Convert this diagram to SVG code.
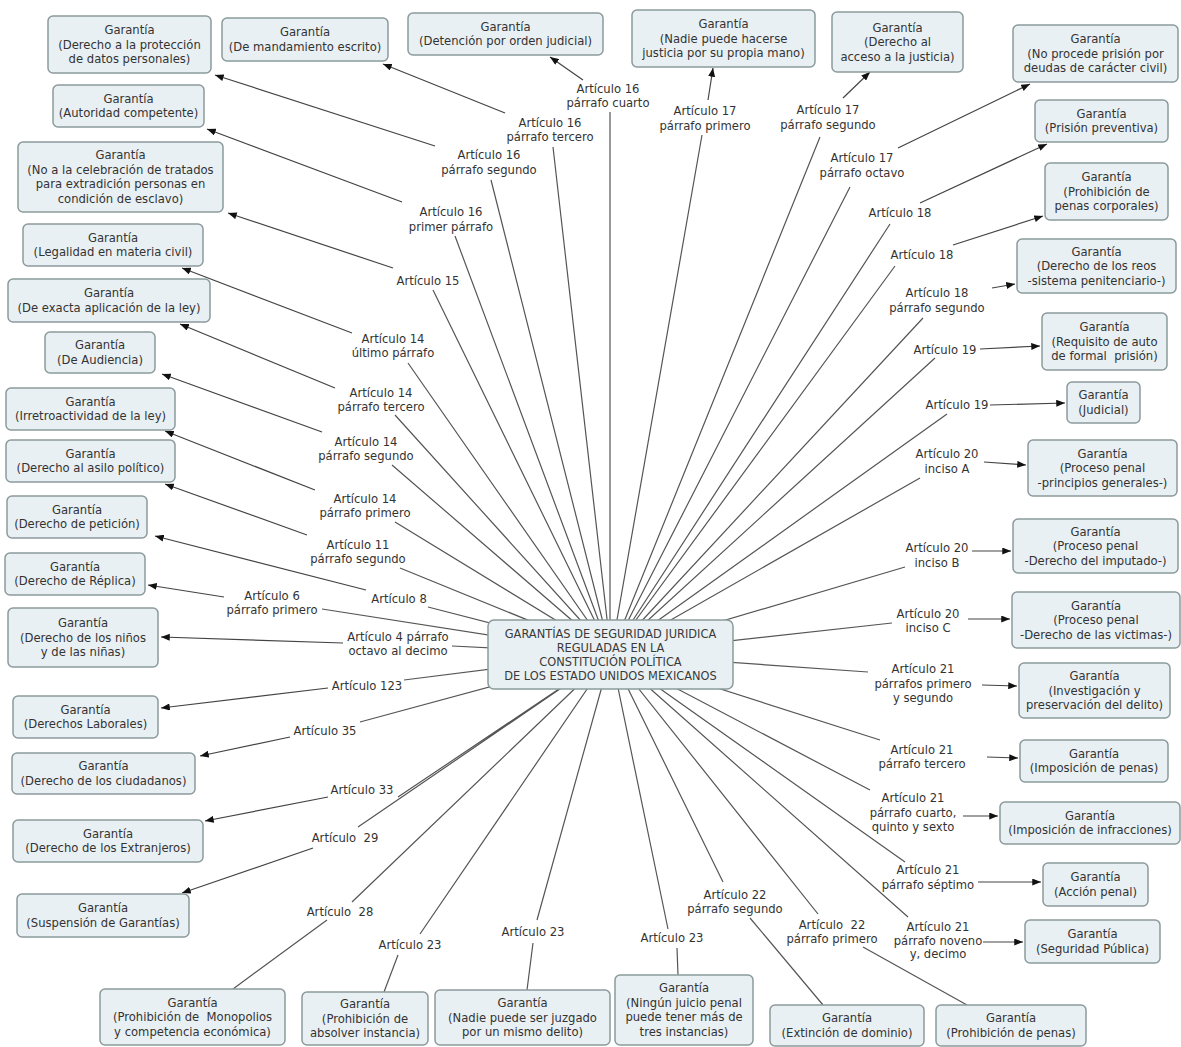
<svg xmlns="http://www.w3.org/2000/svg" width="1181" height="1047" viewBox="0 0 1181 1047">
<defs>
<marker id="ah" viewBox="0 0 10 8" refX="10" refY="4" markerWidth="9" markerHeight="7" markerUnits="userSpaceOnUse" orient="auto">
<path d="M0,0 L10,4 L0,8 z" fill="#111"/>
</marker>
</defs>
<style>
text{font-family:"DejaVu Sans",Verdana,sans-serif;font-size:11.6px;fill:#333;text-anchor:middle;white-space:pre}
.box{fill:#e9f0f3;stroke:#8c9a9c;stroke-width:1.5}
.c{stroke:#555;stroke-width:1.2;fill:none}
.a{stroke:#444;stroke-width:1.2;fill:none;marker-end:url(#ah)}
.main text{font-size:11.4px;fill:#3a3a3a}
</style>
<rect width="1181" height="1047" fill="#fff"/>
<g id="connectors">
<path class="c" d="M610,112 L610,654 M553,147 L611,654 M491,180 L611,654 M455,236 L611,654 M433,290 L611,654 M408,363 L611,654 M395,415 L611,654 M392,465 L611,654 M395,522 L611,654 M400,568 L611,654 M428,607 L611,654 M322,609 L611,654 M452,646 L611,654 M404,680 L611,654 M360,722 L611,654 M398,797 L611,654 M358,827 L611,654 M352,902 L611,654 M420,934 L611,654 M537,920 L611,654 M668,929 L611,654 M723,882 L611,654 M818,914 L611,654 M702,135 L611,654 M820,137 L611,654 M850,187 L611,654 M890,224 L611,654 M895,266 L611,654 M923,318 L611,654 M935,358 L611,654 M947,414 L611,654 M920,478 L611,654 M905,567 L611,654 M892,623 L611,654 M868,672 L611,654 M880,740 L611,654 M870,790 L611,654 M905,862 L611,654 M908,917 L611,654"/>
<path class="c" d="M327,920 L233,989 M398,955 L384,992 M533,943 L527,990 M677,948 L678,975 M750,918 L823,1005 M863,947 L967,1005"/>
<path class="a" d="M583,80 L550,57"/>
<path class="a" d="M505,113 L383,64"/>
<path class="a" d="M435,146 L215,75"/>
<path class="a" d="M402,202 L207,129"/>
<path class="a" d="M393,268 L228,213"/>
<path class="a" d="M352,333 L182,268"/>
<path class="a" d="M335,388 L180,324"/>
<path class="a" d="M322,432 L162,374"/>
<path class="a" d="M315,490 L165,431"/>
<path class="a" d="M307,535 L165,484"/>
<path class="a" d="M366,590 L155,536"/>
<path class="a" d="M224,597 L148,585"/>
<path class="a" d="M343,643 L161,637"/>
<path class="a" d="M328,688 L161,708"/>
<path class="a" d="M290,737 L200,756"/>
<path class="a" d="M328,797 L205,821"/>
<path class="a" d="M313,848 L182,893"/>
<path class="a" d="M708,100 L713,68"/>
<path class="a" d="M843,98 L870,72"/>
<path class="a" d="M898,148 L1030,84"/>
<path class="a" d="M920,203 L1047,144"/>
<path class="a" d="M953,245 L1043,216"/>
<path class="a" d="M992,288 L1015,284"/>
<path class="a" d="M980,349 L1040,346"/>
<path class="a" d="M990,405 L1065,403"/>
<path class="a" d="M984,462 L1026,465"/>
<path class="a" d="M972,551 L1011,551"/>
<path class="a" d="M968,619 L1010,619"/>
<path class="a" d="M982,685 L1017,686"/>
<path class="a" d="M987,757 L1018,758"/>
<path class="a" d="M963,816 L998,816"/>
<path class="a" d="M978,882 L1041,882"/>
<path class="a" d="M983,942 L1023,942"/>
<g id="labels">
<text x="608"><tspan x="608" y="93">Artículo 16</tspan><tspan x="608" y="107">párrafo cuarto</tspan></text>
<text x="550"><tspan x="550" y="127">Artículo 16</tspan><tspan x="550" y="141">párrafo tercero</tspan></text>
<text x="489"><tspan x="489" y="159">Artículo 16</tspan><tspan x="489" y="174">párrafo segundo</tspan></text>
<text x="451"><tspan x="451" y="216">Artículo 16</tspan><tspan x="451" y="231">primer párrafo</tspan></text>
<text x="428" y="285">Artículo 15</text>
<text x="393"><tspan x="393" y="343">Artículo 14</tspan><tspan x="393" y="357">último párrafo</tspan></text>
<text x="381"><tspan x="381" y="397">Artículo 14</tspan><tspan x="381" y="411">párrafo tercero</tspan></text>
<text x="366"><tspan x="366" y="446">Artículo 14</tspan><tspan x="366" y="460">párrafo segundo</tspan></text>
<text x="365"><tspan x="365" y="503">Artículo 14</tspan><tspan x="365" y="517">párrafo primero</tspan></text>
<text x="358"><tspan x="358" y="549">Artículo 11</tspan><tspan x="358" y="563">párrafo segundo</tspan></text>
<text x="399" y="603">Artículo 8</text>
<text x="272"><tspan x="272" y="600">Artículo 6</tspan><tspan x="272" y="614">párrafo primero</tspan></text>
<text x="398"><tspan x="398" y="641">Artículo 4 párrafo</tspan><tspan x="398" y="655">octavo al decimo</tspan></text>
<text x="367" y="690">Artículo 123</text>
<text x="325" y="735">Artículo 35</text>
<text x="362" y="794">Artículo 33</text>
<text x="345" y="842">Artículo  29</text>
<text x="340" y="916">Artículo  28</text>
<text x="410" y="949">Artículo 23</text>
<text x="533" y="936">Artículo 23</text>
<text x="672" y="942">Artículo 23</text>
<text x="735"><tspan x="735" y="899">Artículo 22</tspan><tspan x="735" y="913">párrafo segundo</tspan></text>
<text x="832"><tspan x="832" y="929">Artículo  22</tspan><tspan x="832" y="943">párrafo primero</tspan></text>
<text x="705"><tspan x="705" y="115">Artículo 17</tspan><tspan x="705" y="130">párrafo primero</tspan></text>
<text x="828"><tspan x="828" y="114">Artículo 17</tspan><tspan x="828" y="129">párrafo segundo</tspan></text>
<text x="862"><tspan x="862" y="162">Artículo 17</tspan><tspan x="862" y="177">párrafo octavo</tspan></text>
<text x="900" y="217">Artículo 18</text>
<text x="922" y="259">Artículo 18</text>
<text x="937"><tspan x="937" y="297">Artículo 18</tspan><tspan x="937" y="312">párrafo segundo</tspan></text>
<text x="945" y="354">Artículo 19</text>
<text x="957" y="409">Artículo 19</text>
<text x="947"><tspan x="947" y="458">Artículo 20</tspan><tspan x="947" y="473">inciso A</tspan></text>
<text x="937"><tspan x="937" y="552">Artículo 20</tspan><tspan x="937" y="567">inciso B</tspan></text>
<text x="928"><tspan x="928" y="618">Artículo 20</tspan><tspan x="928" y="632">inciso C</tspan></text>
<text x="923"><tspan x="923" y="673">Artículo 21</tspan><tspan x="923" y="688">párrafos primero</tspan><tspan x="923" y="702">y segundo</tspan></text>
<text x="922"><tspan x="922" y="754">Artículo 21</tspan><tspan x="922" y="768">párrafo tercero</tspan></text>
<text x="913"><tspan x="913" y="802">Artículo 21</tspan><tspan x="913" y="817">párrafo cuarto,</tspan><tspan x="913" y="831">quinto y sexto</tspan></text>
<text x="928"><tspan x="928" y="874">Artículo 21</tspan><tspan x="928" y="889">párrafo séptimo</tspan></text>
<text x="938"><tspan x="938" y="931">Artículo 21</tspan><tspan x="938" y="945">párrafo noveno</tspan><tspan x="938" y="958">y, decimo</tspan></text>
</g>
</g>
<g id="center" class="main">
<rect class="box" x="488" y="620" width="245" height="69" rx="6"/>
<text><tspan x="610.5" y="637.5">GARANTÍAS DE SEGURIDAD JURIDICA</tspan><tspan x="610.5" y="651.5">REGULADAS EN LA</tspan><tspan x="610.5" y="665.5">CONSTITUCIÓN POLÍTICA</tspan><tspan x="610.5" y="679.5">DE LOS ESTADO UNIDOS MEXICANOS</tspan></text>
</g>
<g id="n1"><rect class="box" x="48" y="16" width="163" height="57" rx="5"/><text><tspan x="129.5" y="34">Garantía</tspan><tspan x="129.5" y="48.5">(Derecho a la protección</tspan><tspan x="129.5" y="63">de datos personales)</tspan></text></g>
<g id="n2"><rect class="box" x="222" y="18" width="166" height="43" rx="5"/><text><tspan x="305" y="36.25">Garantía</tspan><tspan x="305" y="50.75">(De mandamiento escrito)</tspan></text></g>
<g id="n3"><rect class="box" x="408" y="13" width="195" height="42" rx="5"/><text><tspan x="505.5" y="30.75">Garantía</tspan><tspan x="505.5" y="45.25">(Detención por orden judicial)</tspan></text></g>
<g id="n4"><rect class="box" x="632" y="10" width="183" height="57" rx="5"/><text><tspan x="723.5" y="28">Garantía</tspan><tspan x="723.5" y="42.5">(Nadie puede hacerse</tspan><tspan x="723.5" y="57">justicia por su propia mano)</tspan></text></g>
<g id="n5"><rect class="box" x="832" y="12" width="131" height="60" rx="5"/><text><tspan x="897.5" y="31.5">Garantía</tspan><tspan x="897.5" y="46">(Derecho al</tspan><tspan x="897.5" y="60.5">acceso a la justicia)</tspan></text></g>
<g id="n6"><rect class="box" x="1013" y="25" width="165" height="57" rx="5"/><text><tspan x="1095.5" y="43">Garantía</tspan><tspan x="1095.5" y="57.5">(No procede prisión por</tspan><tspan x="1095.5" y="72">deudas de carácter civil)</tspan></text></g>
<g id="n7"><rect class="box" x="1035" y="100" width="133" height="42" rx="5"/><text><tspan x="1101.5" y="117.75">Garantía</tspan><tspan x="1101.5" y="132.25">(Prisión preventiva)</tspan></text></g>
<g id="n8"><rect class="box" x="1045" y="163" width="123" height="57" rx="5"/><text><tspan x="1106.5" y="181">Garantía</tspan><tspan x="1106.5" y="195.5">(Prohibición de</tspan><tspan x="1106.5" y="210">penas corporales)</tspan></text></g>
<g id="n9"><rect class="box" x="1017" y="239" width="159" height="54" rx="5"/><text><tspan x="1096.5" y="255.5">Garantía</tspan><tspan x="1096.5" y="270">(Derecho de los reos</tspan><tspan x="1096.5" y="284.5">-sistema penitenciario-)</tspan></text></g>
<g id="n10"><rect class="box" x="1042" y="313" width="125" height="57" rx="5"/><text><tspan x="1104.5" y="331">Garantía</tspan><tspan x="1104.5" y="345.5">(Requisito de auto</tspan><tspan x="1104.5" y="360">de formal  prisión)</tspan></text></g>
<g id="n11"><rect class="box" x="1067" y="382" width="73" height="41" rx="5"/><text><tspan x="1103.5" y="399.25">Garantía</tspan><tspan x="1103.5" y="413.75">(Judicial)</tspan></text></g>
<g id="n12"><rect class="box" x="1028" y="440" width="149" height="56" rx="5"/><text><tspan x="1102.5" y="457.5">Garantía</tspan><tspan x="1102.5" y="472">(Proceso penal</tspan><tspan x="1102.5" y="486.5">-principios generales-)</tspan></text></g>
<g id="n13"><rect class="box" x="1013" y="519" width="165" height="54" rx="5"/><text><tspan x="1095.5" y="535.5">Garantía</tspan><tspan x="1095.5" y="550">(Proceso penal</tspan><tspan x="1095.5" y="564.5">-Derecho del imputado-)</tspan></text></g>
<g id="n14"><rect class="box" x="1012" y="592" width="168" height="56" rx="5"/><text><tspan x="1096" y="609.5">Garantía</tspan><tspan x="1096" y="624">(Proceso penal</tspan><tspan x="1096" y="638.5">-Derecho de las victimas-)</tspan></text></g>
<g id="n15"><rect class="box" x="1019" y="663" width="151" height="55" rx="5"/><text><tspan x="1094.5" y="680">Garantía</tspan><tspan x="1094.5" y="694.5">(Investigación y</tspan><tspan x="1094.5" y="709">preservación del delito)</tspan></text></g>
<g id="n16"><rect class="box" x="1020" y="740" width="148" height="42" rx="5"/><text><tspan x="1094" y="757.75">Garantía</tspan><tspan x="1094" y="772.25">(Imposición de penas)</tspan></text></g>
<g id="n17"><rect class="box" x="1000" y="802" width="180" height="42" rx="5"/><text><tspan x="1090" y="819.75">Garantía</tspan><tspan x="1090" y="834.25">(Imposición de infracciones)</tspan></text></g>
<g id="n18"><rect class="box" x="1043" y="863" width="105" height="43" rx="5"/><text><tspan x="1095.5" y="881.25">Garantía</tspan><tspan x="1095.5" y="895.75">(Acción penal)</tspan></text></g>
<g id="n19"><rect class="box" x="1025" y="920" width="135" height="43" rx="5"/><text><tspan x="1092.5" y="938.25">Garantía</tspan><tspan x="1092.5" y="952.75">(Seguridad Pública)</tspan></text></g>
<g id="n20"><rect class="box" x="936" y="1005" width="150" height="41" rx="5"/><text><tspan x="1011" y="1022.25">Garantía</tspan><tspan x="1011" y="1036.75">(Prohibición de penas)</tspan></text></g>
<g id="n21"><rect class="box" x="770" y="1005" width="154" height="41" rx="5"/><text><tspan x="847" y="1022.25">Garantía</tspan><tspan x="847" y="1036.75">(Extinción de dominio)</tspan></text></g>
<g id="n22"><rect class="box" x="615" y="975" width="138" height="70" rx="5"/><text><tspan x="684" y="992.25">Garantía</tspan><tspan x="684" y="1006.75">(Ningún juicio penal</tspan><tspan x="684" y="1021.25">puede tener más de</tspan><tspan x="684" y="1035.75">tres instancias)</tspan></text></g>
<g id="n23"><rect class="box" x="435" y="990" width="175" height="55" rx="5"/><text><tspan x="522.5" y="1007">Garantía</tspan><tspan x="522.5" y="1021.5">(Nadie puede ser juzgado</tspan><tspan x="522.5" y="1036">por un mismo delito)</tspan></text></g>
<g id="n24"><rect class="box" x="302" y="992" width="126" height="53" rx="5"/><text><tspan x="365" y="1008">Garantía</tspan><tspan x="365" y="1022.5">(Prohibición de</tspan><tspan x="365" y="1037">absolver instancia)</tspan></text></g>
<g id="n25"><rect class="box" x="100" y="989" width="185" height="56" rx="5"/><text><tspan x="192.5" y="1006.5">Garantía</tspan><tspan x="192.5" y="1021">(Prohibición de  Monopolios</tspan><tspan x="192.5" y="1035.5">y competencia económica)</tspan></text></g>
<g id="n26"><rect class="box" x="17" y="894" width="172" height="43" rx="5"/><text><tspan x="103" y="912.25">Garantía</tspan><tspan x="103" y="926.75">(Suspensión de Garantías)</tspan></text></g>
<g id="n27"><rect class="box" x="13" y="820" width="190" height="42" rx="5"/><text><tspan x="108" y="837.75">Garantía</tspan><tspan x="108" y="852.25">(Derecho de los Extranjeros)</tspan></text></g>
<g id="n28"><rect class="box" x="12" y="753" width="183" height="41" rx="5"/><text><tspan x="103.5" y="770.25">Garantía</tspan><tspan x="103.5" y="784.75">(Derecho de los ciudadanos)</tspan></text></g>
<g id="n29"><rect class="box" x="13" y="696" width="145" height="42" rx="5"/><text><tspan x="85.5" y="713.75">Garantía</tspan><tspan x="85.5" y="728.25">(Derechos Laborales)</tspan></text></g>
<g id="n30"><rect class="box" x="8" y="608" width="150" height="59" rx="5"/><text><tspan x="83" y="627">Garantía</tspan><tspan x="83" y="641.5">(Derecho de los niños</tspan><tspan x="83" y="656">y de las niñas)</tspan></text></g>
<g id="n31"><rect class="box" x="5" y="553" width="140" height="42" rx="5"/><text><tspan x="75" y="570.75">Garantía</tspan><tspan x="75" y="585.25">(Derecho de Réplica)</tspan></text></g>
<g id="n32"><rect class="box" x="7" y="496" width="140" height="42" rx="5"/><text><tspan x="77" y="513.75">Garantía</tspan><tspan x="77" y="528.25">(Derecho de petición)</tspan></text></g>
<g id="n33"><rect class="box" x="6" y="440" width="169" height="42" rx="5"/><text><tspan x="90.5" y="457.75">Garantía</tspan><tspan x="90.5" y="472.25">(Derecho al asilo político)</tspan></text></g>
<g id="n34"><rect class="box" x="6" y="388" width="169" height="42" rx="5"/><text><tspan x="90.5" y="405.75">Garantía</tspan><tspan x="90.5" y="420.25">(Irretroactividad de la ley)</tspan></text></g>
<g id="n35"><rect class="box" x="45" y="332" width="110" height="41" rx="5"/><text><tspan x="100" y="349.25">Garantía</tspan><tspan x="100" y="363.75">(De Audiencia)</tspan></text></g>
<g id="n36"><rect class="box" x="8" y="279" width="202" height="43" rx="5"/><text><tspan x="109" y="297.25">Garantía</tspan><tspan x="109" y="311.75">(De exacta aplicación de la ley)</tspan></text></g>
<g id="n37"><rect class="box" x="23" y="224" width="180" height="42" rx="5"/><text><tspan x="113" y="241.75">Garantía</tspan><tspan x="113" y="256.25">(Legalidad en materia civil)</tspan></text></g>
<g id="n38"><rect class="box" x="18" y="142" width="205" height="70" rx="5"/><text><tspan x="120.5" y="159.25">Garantía</tspan><tspan x="120.5" y="173.75">(No a la celebración de tratados</tspan><tspan x="120.5" y="188.25">para extradición personas en</tspan><tspan x="120.5" y="202.75">condición de esclavo)</tspan></text></g>
<g id="n39"><rect class="box" x="53" y="85" width="151" height="42" rx="5"/><text><tspan x="128.5" y="102.75">Garantía</tspan><tspan x="128.5" y="117.25">(Autoridad competente)</tspan></text></g>
</svg>
